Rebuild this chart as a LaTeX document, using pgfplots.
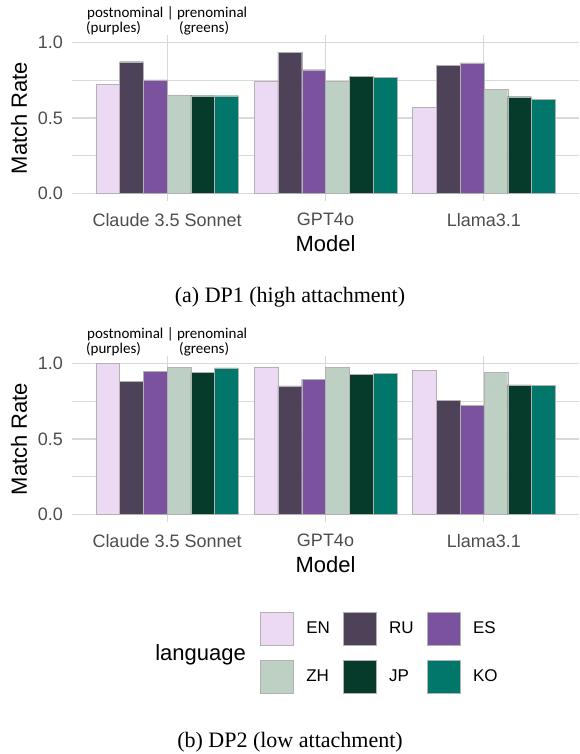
\documentclass[border=0pt]{standalone}
\usepackage{fontspec}
\setmainfont{Liberation Sans}
\newfontfamily\capfont{Liberation Serif}
\newfontfamily\annofont{Carlito}
\usepackage{pgfplots}
\pgfplotsset{compat=1.18}

\definecolor{cEN}{HTML}{ECDAF5}
\definecolor{cRU}{HTML}{4E4259}
\definecolor{cES}{HTML}{7A529E}
\definecolor{cZH}{HTML}{BED0C3}
\definecolor{cJP}{HTML}{063A2A}
\definecolor{cKO}{HTML}{01766B}
\definecolor{tickgray}{HTML}{4D4D4D}
\definecolor{gridgray}{HTML}{D9D9D9}

\pgfplotsset{
  mystyle/.style={
    scale only axis, width=507pt, height=166pt,
    xmin=0.4, xmax=3.6, ymin=-0.05, ymax=1.05,
    ybar=0pt, bar width=0.15,
    xtick={1,2,3}, xticklabels={Claude 3.5 Sonnet,GPT4o,Llama3.1},
    ytick={0,0.5,1}, yticklabels={0.0,0.5,1.0},
    minor ytick={0.25,0.75},
    xmajorgrids, ymajorgrids, yminorgrids,
    major grid style={draw=gridgray, line width=1.1pt},
    minor grid style={draw=gridgray, line width=0.7pt},
    axis line style={draw=none},
    tick style={draw=none}, major tick length=0pt, minor tick length=0pt,
    ticklabel style={font=\fontsize{18}{21}\selectfont, text=tickgray, inner sep=0pt},
    yticklabel style={anchor=east},
    xticklabel style={anchor=north},
    yticklabel shift=9pt, xticklabel shift=12pt,
    xlabel=Model, ylabel=Match Rate,
    label style={font=\fontsize{22}{26}\selectfont, inner sep=0pt},
    xlabel style={at={(axis description cs:0.5,-0.205)}, anchor=north},
    ylabel style={at={(axis description cs:-0.1045,0.5)}, anchor=center},
  },
  barst/.style={fill=#1, draw=black!30, line width=0.3pt},
}

\begin{document}
\begin{tikzpicture}
\useasboundingbox (0,0) rectangle (579pt,-754pt);

% ---------- Panel (a) ----------
\begin{axis}[mystyle, at={(72pt,-201pt)}, anchor=south west]
\addplot[barst=cEN] coordinates {(1,0.725) (2,0.745) (3,0.571)};
\addplot[barst=cRU] coordinates {(1,0.873) (2,0.936) (3,0.849)};
\addplot[barst=cES] coordinates {(1,0.752) (2,0.820) (3,0.865)};
\addplot[barst=cZH] coordinates {(1,0.654) (2,0.741) (3,0.690)};
\addplot[barst=cJP] coordinates {(1,0.648) (2,0.776) (3,0.641)};
\addplot[barst=cKO] coordinates {(1,0.648) (2,0.770) (3,0.624)};
\end{axis}

% ---------- Panel (b) ----------
\begin{axis}[mystyle, at={(72pt,-522pt)}, anchor=south west,
  legend columns=3,
  legend cell align=left,
  legend style={draw=none, fill=none, at={(axis description cs:0.3708,-0.542)},
    anchor=north west, inner sep=0pt, outer sep=0pt,
    column sep=13pt, row sep=14.5pt,
    font=\fontsize{17}{20}\selectfont, nodes={inner sep=0pt}},
  legend image code/.code={\fill[#1] (0pt,-16.5pt) rectangle (33pt,16.5pt);},
]
\addplot[barst=cEN] coordinates {(1,1.000) (2,0.978) (3,0.954)};
\addlegendentry{EN}
\addplot[barst=cRU] coordinates {(1,0.884) (2,0.852) (3,0.756)};
\addlegendentry{RU}
\addplot[barst=cES] coordinates {(1,0.948) (2,0.895) (3,0.725)};
\addlegendentry{ES}
\addplot[barst=cZH] coordinates {(1,0.974) (2,0.974) (3,0.941)};
\addlegendentry{ZH}
\addplot[barst=cJP] coordinates {(1,0.941) (2,0.928) (3,0.859)};
\addlegendentry{JP}
\addplot[barst=cKO] coordinates {(1,0.972) (2,0.934) (3,0.855)};
\addlegendentry{KO}
\end{axis}

% annotations
\begin{scope}[every node/.style={inner sep=0pt, font=\annofont\fontsize{15}{18}\selectfont}]
\node[anchor=base west] at (87pt,-17.5pt) {postnominal | prenominal};
\node[anchor=base west] at (86pt,-32.5pt) {(purples)};
\node[anchor=base west] at (179pt,-32.5pt) {(greens)};
\node[anchor=base west] at (87pt,-338.3pt) {postnominal | prenominal};
\node[anchor=base west] at (86pt,-353.3pt) {(purples)};
\node[anchor=base west] at (179pt,-353.3pt) {(greens)};
\end{scope}

\node[anchor=base east, inner sep=0pt, font=\fontsize{22}{26}\selectfont] at (246pt,-660pt) {language};

\node[anchor=base, inner sep=0pt, font=\capfont\fontsize{22}{26}\selectfont] at (290pt,-302pt) {(a) DP1 (high attachment)};
\node[anchor=base, inner sep=0pt, font=\capfont\fontsize{22}{26}\selectfont] at (290pt,-747pt) {(b) DP2 (low attachment)};
\end{tikzpicture}
\end{document}
